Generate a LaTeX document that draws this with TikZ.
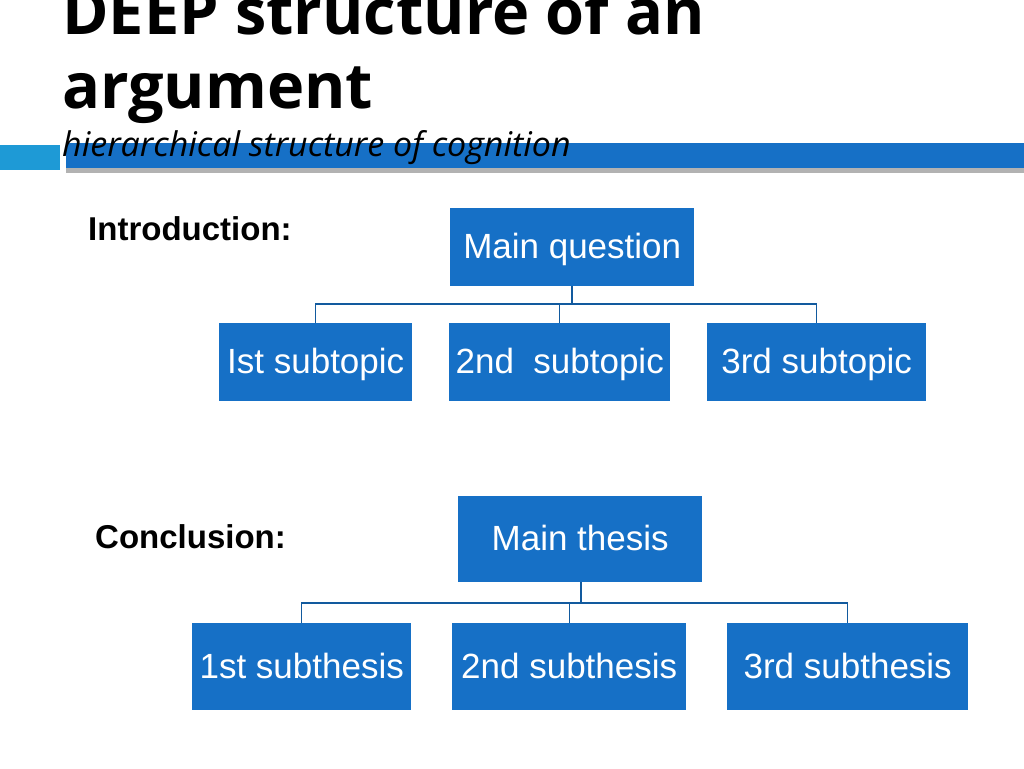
\documentclass[tikz,border=0pt]{standalone}
\usepackage{fontspec}
\setmainfont{Liberation Sans}
\newfontfamily\titlefont{Open Sans}
\usetikzlibrary{positioning}
\definecolor{boxblue}{HTML}{1670C6}
\definecolor{barcyan}{HTML}{1E9AD6}

\begin{document}
\begin{tikzpicture}[x=1pt,y=-1pt,
    box/.style={draw=none,fill=boxblue,text=white,font=\fontsize{35}{38}\selectfont,
                inner sep=0pt,anchor=north west,text height=24pt,text depth=1pt},
    tree/.style={draw=boxblue!80!black,line width=1.2pt},
    lbl/.style={font=\bfseries\fontsize{33}{36}\selectfont,anchor=base west,inner sep=0pt}]
    \useasboundingbox (0,0) rectangle (1024,768);

    % Title and header bar
    \fill[gray!60] (66,168) rectangle (1024,173);
    \fill[barcyan] (0,145) rectangle (60,170);
    \fill[boxblue] (66,143) rectangle (1024,168);
    \node[anchor=base west,inner sep=0pt,font=\titlefont\bfseries\fontsize{63}{66}\selectfont] (t1) at (62,35) {DEEP structure of an};
    \node[anchor=base west,inner sep=0pt,font=\titlefont\bfseries\fontsize{63}{66}\selectfont] (t2) at (62,108) {argument};
    \node[anchor=base west,inner sep=0pt,font=\titlefont\itshape\fontsize{34}{36}\selectfont] (sub) at (62,156) {hierarchical structure of cognition};

    % Introduction tree
    \node[lbl] (intro) at (88,240) {Introduction:};
    \node[box,minimum width=244pt,minimum height=78pt] (mq) at (450,208) {Main question};
    \node[box,minimum width=193pt,minimum height=78pt] (s1) at (219,323) {Ist subtopic};
    \node[box,minimum width=221pt,minimum height=78pt] (s2) at (449,323) {2nd\ \ subtopic};
    \node[box,minimum width=219pt,minimum height=78pt] (s3) at (707,323) {3rd subtopic};
    \coordinate (ja) at (572,304);
    \draw[tree] (572,286) -- (ja);
    \draw[tree] (s1.north) |- (ja) -| (s3.north);
    \draw[tree] (s2.north) -- (s2.north |- ja);

    % Conclusion tree
    \node[lbl] (concl) at (95,548) {Conclusion:};
    \node[box,minimum width=244pt,minimum height=86pt] (mt) at (458,496) {Main thesis};
    \node[box,minimum width=219pt,minimum height=87pt] (t1s) at (192,623) {1st subthesis};
    \node[box,minimum width=234pt,minimum height=87pt] (t2s) at (452,623) {2nd subthesis};
    \node[box,minimum width=241pt,minimum height=87pt] (t3s) at (727,623) {3rd subthesis};
    \coordinate (jb) at (581,603);
    \draw[tree] (581,582) -- (jb);
    \draw[tree] (t1s.north) |- (jb) -| (t3s.north);
    \draw[tree] (t2s.north) -- (t2s.north |- jb);
\end{tikzpicture}
\end{document}
